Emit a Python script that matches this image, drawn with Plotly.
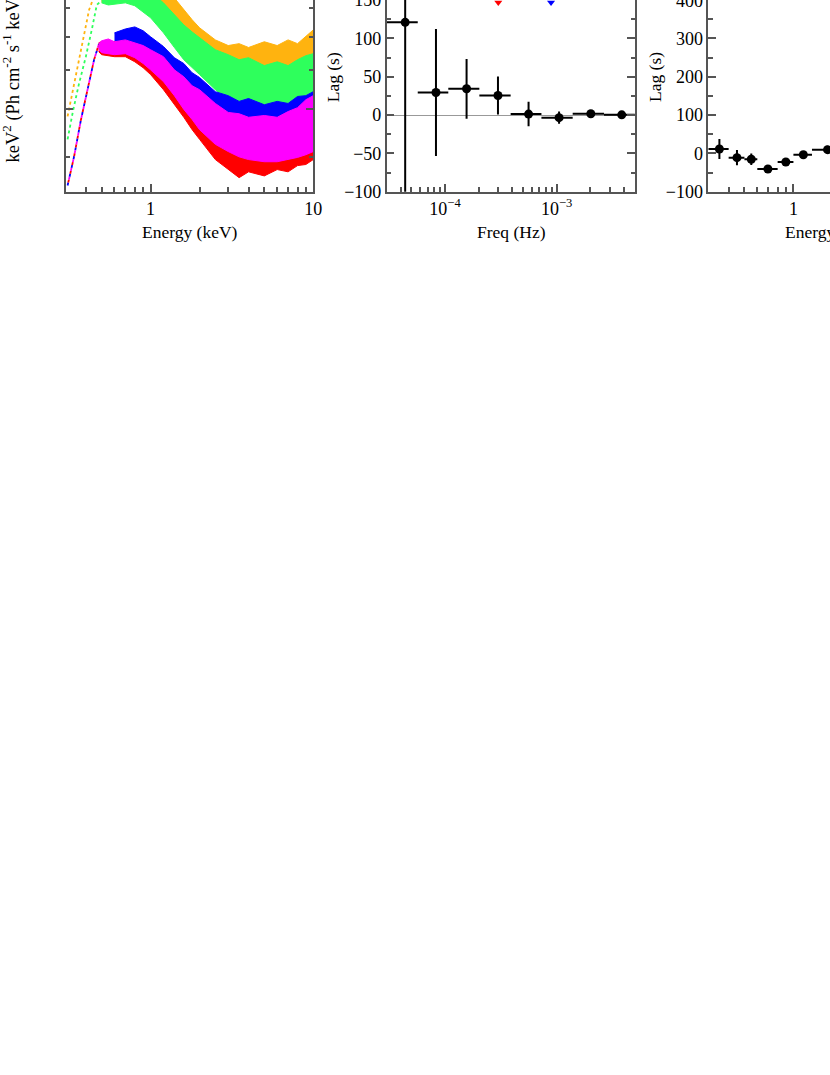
import plotly.graph_objects as go

W, H = 830, 1075
FONT = "Liberation Serif, Times New Roman, serif"
AXIS_COLOR = "#555555"

# ---- panel 1: unfolded spectra, flux in units of 1e-3 keV^2 (Ph cm^-2 s^-1 keV^-1)
E_ORANGE = [0.5, 0.55, 0.6, 0.7, 0.8, 0.9, 1.0, 1.2, 1.4, 1.6, 1.8, 2.0, 2.5,
            3.0, 3.5, 4.0, 5.0, 6.0, 7.0, 8.0, 9.0, 10.0]
ORANGE_HI = [10.0, 10.0, 10.0, 10.0, 10.0, 10.0, 9.79, 9.34, 8.39, 7.94, 7.58, 7.30,
             6.90, 6.72, 6.78, 6.66, 6.84, 6.72, 6.90, 6.78, 7.03, 7.23]
ORANGE_LO = [8.23, 8.16, 8.20, 8.23, 8.12, 8.09, 7.94, 7.65, 7.23, 6.90, 6.59, 6.35,
             6.12, 6.00, 5.95, 5.95, 5.89, 5.87, 5.95, 6.00, 6.06, 6.23]

E_GREEN = E_ORANGE
GREEN_HI = [9.13, 9.13, 9.13, 9.13, 9.13, 8.92, 8.63, 8.20, 7.76, 7.40, 7.16, 6.97,
            6.59, 6.44, 6.29, 6.35, 6.12, 6.23, 6.12, 6.29, 6.41, 6.47]
GREEN_LO = [8.20, 8.12, 8.16, 8.20, 8.09, 7.87, 7.65, 7.13, 6.66, 6.29, 6.06, 5.87,
            5.47, 5.22, 5.13, 5.10, 5.03, 5.03, 5.06, 5.13, 5.22, 5.32]

E_BLUE = [0.6, 0.7, 0.8, 0.9, 1.0, 1.2, 1.4, 1.6, 1.8, 2.0, 2.5, 3.0, 3.5, 4.0,
          5.0, 6.0, 7.0, 8.0, 9.0, 10.0]
BLUE_HI = [7.13, 7.26, 7.33, 7.20, 7.00, 6.69, 6.35, 6.18, 5.92, 5.79, 5.42, 5.32,
           5.18, 5.25, 5.10, 5.18, 5.13, 5.30, 5.32, 5.42]
BLUE_LO = [6.75, 6.75, 6.72, 6.62, 6.44, 6.00, 5.68, 5.42, 5.27, 5.13, 4.83, 4.70,
           4.63, 4.59, 4.54, 4.54, 4.59, 4.70, 4.76, 4.83]

E_LOW = [0.48, 0.5, 0.55, 0.6, 0.7, 0.8, 0.9, 1.0, 1.2, 1.4, 1.6, 1.8, 2.0, 2.5,
         3.0, 3.5, 4.0, 5.0, 6.0, 7.0, 8.0, 9.0, 10.0]
MAGENTA_HI = [6.78, 6.87, 6.93, 6.84, 6.90, 6.81, 6.72, 6.59, 6.38, 6.00, 5.81, 5.57,
              5.47, 5.13, 4.92, 4.89, 4.81, 4.85, 4.81, 4.94, 5.03, 5.22, 5.32]
MAGENTA_LO = [6.59, 6.50, 6.47, 6.44, 6.47, 6.35, 6.18, 6.00, 5.68, 5.32, 4.99, 4.76,
              4.54, 4.24, 4.10, 4.00, 3.95, 3.91, 3.91, 3.95, 3.99, 4.04, 4.10]
RED_HI = [6.81, 6.84, 6.84, 6.84, 6.84, 6.78, 6.59, 6.44, 6.18, 5.87, 5.63, 5.42,
          5.22, 4.87, 4.72, 4.63, 4.59, 4.59, 4.63, 4.67, 4.72, 4.81, 4.87]
RED_LO = [6.53, 6.44, 6.41, 6.38, 6.38, 6.23, 6.06, 5.87, 5.47, 5.10, 4.81, 4.54,
          4.34, 3.95, 3.77, 3.63, 3.73, 3.66, 3.77, 3.73, 3.84, 3.86, 3.95]

# low-energy (sparse, dashed) parts
E_DASH_ORANGE = [0.309, 0.347, 0.382, 0.419, 0.441, 0.45]
F_DASH_ORANGE = [4.83, 5.82, 6.90, 7.94, 8.31, 8.6]
E_DASH_GREEN = [0.309, 0.333, 0.362, 0.40, 0.435, 0.467, 0.5]
F_DASH_GREEN = [4.34, 4.94, 5.60, 6.38, 7.23, 8.12, 8.3]
E_DASH_LOW = [0.309, 0.339, 0.3725, 0.41, 0.4495, 0.482]
F_DASH_LOW = [3.50, 4.01, 4.74, 5.47, 6.29, 6.78]

# ---- panel 2: lag vs frequency
FREQ = [4.4e-5, 8.3e-5, 1.56e-4, 2.98e-4, 5.6e-4, 1.05e-3, 2.02e-3, 3.82e-3]
FREQ_LO = [3.0e-5, 5.7e-5, 1.07e-4, 2.03e-4, 3.87e-4, 7.3e-4, 1.39e-3, 2.65e-3]
FREQ_HI = [5.7e-5, 1.07e-4, 2.03e-4, 3.87e-4, 7.3e-4, 1.39e-3, 2.65e-3, 5.0e-3]
LAG_F = [121.0, 29.5, 34.3, 25.6, 1.3, -3.4, 1.8, 0.3]
LAG_F_ERR = [260.0, 83.0, 39.0, 24.7, 16.0, 8.0, 3.0, 2.0]
MARK_FREQ = [3.0e-4, 8.9e-4]
MARK_LAG = [147, 147]
MARK_COLORS = ["#ff0000", "#0000ff"]

# ---- panel 3: lag vs energy
ENERGY = [0.351, 0.45, 0.551, 0.697, 0.898, 1.151, 1.62]
ENERGY_LO = [0.30, 0.40, 0.50, 0.60, 0.80, 1.0, 1.3]
ENERGY_HI = [0.40, 0.50, 0.60, 0.80, 1.0, 1.3, 2.0]
LAG_E = [11.5, -11.2, -15.4, -40.7, -22.4, -3.4, 9.7]
LAG_E_ERR = [26.0, 20.0, 15.0, 6.0, 7.0, 8.0, 10.0]

C_ORANGE = "#ffb30f"
C_GREEN = "#2eff5c"
C_BLUE = "#0000ff"
C_MAGENTA = "#ff00ff"
C_RED = "#ff0000"


def px_x(p):
    return p / W


def px_y(p):
    return 1 - p / H


def band(e, lo, hi, color):
    return go.Scatter(
        x=e + e[::-1], y=hi + lo[::-1], mode="lines", fill="toself",
        fillcolor=color, line=dict(color=color, width=1),
        hoverinfo="skip", showlegend=False, xaxis="x", yaxis="y",
    )


def dashed(e, f, color, dash="3px,3px"):
    return go.Scatter(
        x=e, y=f, mode="lines", line=dict(color=color, width=1.8, dash=dash),
        hoverinfo="skip", showlegend=False, xaxis="x", yaxis="y",
    )


def lag_points(x, lo, hi, y, err, xa, ya):
    return go.Scatter(
        x=x, y=y, mode="markers", xaxis=xa, yaxis=ya, showlegend=False,
        marker=dict(color="black", size=9, symbol="circle"),
        error_x=dict(type="data", symmetric=False,
                     array=[h - c for h, c in zip(hi, x)],
                     arrayminus=[c - l for c, l in zip(x, lo)],
                     color="black", thickness=2, width=0),
        error_y=dict(type="data", array=err, color="black", thickness=2, width=0),
    )


fig = go.Figure()
fig.add_trace(dashed(E_DASH_ORANGE, F_DASH_ORANGE, C_ORANGE))
fig.add_trace(dashed(E_DASH_GREEN, F_DASH_GREEN, C_GREEN))
fig.add_trace(dashed(E_DASH_LOW, F_DASH_LOW, C_BLUE, "3px,6px"))
fig.add_trace(dashed(E_DASH_LOW, F_DASH_LOW, C_RED, "0px,3px,3px,3px"))
fig.add_trace(dashed(E_DASH_LOW, F_DASH_LOW, C_MAGENTA, "0px,6px,3px,0px"))
fig.add_trace(band(E_ORANGE, ORANGE_LO, ORANGE_HI, C_ORANGE))
fig.add_trace(band(E_GREEN, GREEN_LO, GREEN_HI, C_GREEN))
fig.add_trace(band(E_BLUE, BLUE_LO, BLUE_HI, C_BLUE))
fig.add_trace(band(E_LOW, RED_LO, RED_HI, C_RED))
fig.add_trace(band(E_LOW, MAGENTA_LO, MAGENTA_HI, C_MAGENTA))

fig.add_trace(lag_points(FREQ, FREQ_LO, FREQ_HI, LAG_F, LAG_F_ERR, "x2", "y2"))
fig.add_trace(go.Scatter(
    x=MARK_FREQ, y=MARK_LAG, mode="markers", xaxis="x2", yaxis="y2", showlegend=False,
    marker=dict(symbol="triangle-down", size=7, color=MARK_COLORS),
))
fig.add_trace(lag_points(ENERGY, ENERGY_LO, ENERGY_HI, LAG_E, LAG_E_ERR, "x3", "y3"))

tick_font = dict(family=FONT, size=18, color="black")
minor_style = dict(ticks="inside", ticklen=4.5, tickcolor=AXIS_COLOR, tickwidth=1.5)
common = dict(
    showline=True, linecolor=AXIS_COLOR, linewidth=1.5, ticks="inside",
    tickcolor=AXIS_COLOR, tickwidth=1.5, ticklen=8, showgrid=False,
    tickfont=tick_font, ticklabeloverflow="allow", automargin=False,
)
bottom = px_y(191.7)

fig.update_layout(
    width=W, height=H,
    margin=dict(l=0, r=0, t=0, b=0, autoexpand=False),
    paper_bgcolor="white", plot_bgcolor="white",
    font=dict(family=FONT, size=18, color="black"),
    xaxis=dict(
        type="log", range=[-0.5229, 1.0], domain=[px_x(65.5), px_x(313.3)],
        anchor="y", tickvals=[1, 10], ticktext=["1", "10"], mirror=False,
        minor=dict(tickvals=[0.4, 0.5, 0.6, 0.7, 0.8, 0.9, 2, 3, 4, 5, 6, 7, 8, 9],
                   **minor_style),
        **common,
    ),
    yaxis=dict(
        type="log", range=[0.5315, 0.9196], domain=[bottom, 1], anchor="x",
        tickvals=[5], showticklabels=False, mirror="allticks",
        minor=dict(tickvals=[4, 6, 7, 8], **minor_style),
        **common,
    ),
    xaxis2=dict(
        type="log", range=[-4.522, -2.299], domain=[px_x(386.7), px_x(635)],
        anchor="y2", tickvals=[1e-4, 1e-3],
        ticktext=["10<sup>\u22124</sup>", "10<sup>\u22123</sup>"], mirror=False,
        minor=dict(tickvals=[4e-5, 5e-5, 6e-5, 7e-5, 8e-5, 9e-5,
                             2e-4, 3e-4, 4e-4, 5e-4, 6e-4, 7e-4, 8e-4, 9e-4,
                             2e-3, 3e-3, 4e-3, 5e-3], **minor_style),
        **common,
    ),
    yaxis2=dict(
        range=[-100, 150.2], domain=[bottom, 1], anchor="x2",
        tickvals=[-100, -50, 0, 50, 100, 150], mirror="allticks",
        zeroline=True, zerolinecolor="#999999", zerolinewidth=1,
        minor=dict(tickvals=[-75, -25, 25, 75, 125], **minor_style),
        **common,
    ),
    xaxis3=dict(
        type="log", range=[-0.5229, 0.2247], domain=[px_x(708.3), 1],
        anchor="y3", tickvals=[1], ticktext=["1"], mirror=False,
        minor=dict(tickvals=[0.4, 0.5, 0.6, 0.7, 0.8, 0.9], **minor_style),
        **common,
    ),
    yaxis3=dict(
        range=[-100, 400.5], domain=[bottom, 1], anchor="x3",
        tickvals=[-100, 0, 100, 200, 300, 400], mirror=False, zeroline=False,
        minor=dict(tickvals=[-50, 50, 150, 250, 350], **minor_style),
        **common,
    ),
)

title_font = dict(family=FONT, size=17.5, color="black")
labels = [
    dict(text="keV<sup>2</sup> (Ph cm<sup>-2</sup> s<sup>-1</sup> keV<sup>-1</sup>)",
         x=px_x(12), y=px_y(165), xanchor="center", yanchor="bottom", textangle=-90,
         font=dict(family=FONT, size=18.5, color="black")),
    dict(text="Lag (s)", x=px_x(333.3), y=px_y(77), xanchor="center",
         yanchor="middle", textangle=-90),
    dict(text="Lag (s)", x=px_x(655), y=px_y(77), xanchor="center",
         yanchor="middle", textangle=-90),
    dict(text="Energy (keV)", x=px_x(189.5), y=px_y(232), xanchor="center",
         yanchor="middle"),
    dict(text="Freq (Hz)", x=px_x(511), y=px_y(232), xanchor="center",
         yanchor="middle"),
    dict(text="Energy (keV)", x=px_x(782.7), y=px_y(232), xanchor="left",
         yanchor="middle"),
]
for lab in labels:
    lab.setdefault("font", title_font)
    fig.add_annotation(xref="paper", yref="paper", showarrow=False, **lab)

fig.write_html("out.html", config={"displayModeBar": False},
               post_script="document.body.style.margin='0px';")
